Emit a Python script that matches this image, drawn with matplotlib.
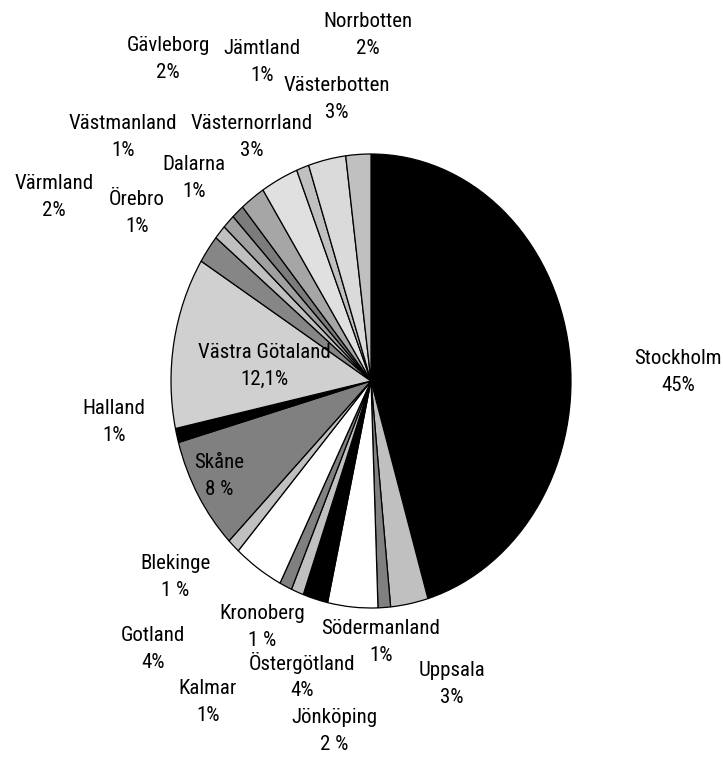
import matplotlib
matplotlib.use("Agg")
import matplotlib.pyplot as plt
from matplotlib import font_manager as fm

# Andel per län (procent), medurs från kl. 12
regions = ["Stockholm", "Uppsala", "Södermanland", "Östergötland", "Jönköping",
           "Kronoberg", "Kalmar", "Gotland", "Blekinge", "Skåne", "Halland",
           "Västra Götaland", "Värmland", "Örebro", "Västmanland", "Dalarna",
           "Gävleborg", "Västernorrland", "Jämtland", "Västerbotten", "Norrbotten"]
shares = [45, 3, 1, 4, 2, 1, 1, 4, 1, 8, 1, 12.1, 2, 1, 1, 1, 2, 3, 1, 3, 2]
share_labels = ["45%", "3%", "1%", "4%", "2 %", "1 %", "1%", "4%", "1 %", "8 %", "1%",
                "12,1%", "2%", "1%", "1%", "1%", "2%", "3%", "1%", "3%", "2%"]
colors = ["#000000", "#c0c0c0", "#808080", "#ffffff", "#000000", "#c0c0c0",
          "#808080", "#ffffff", "#c0c0c0", "#808080", "#000000", "#d0d0d0",
          "#868686", "#c0c0c0", "#a0a0a0", "#7c7c7c", "#a6a6a6", "#e0e0e0",
          "#c0c0c0", "#dadada", "#c0c0c0"]

# label centres in pixels (x, y from top)
label_pos = {
    "Stockholm": (678, 372), "Uppsala": (452, 684), "Södermanland": (381, 642),
    "Östergötland": (302, 676), "Jönköping": (334, 731), "Kronoberg": (262, 627),
    "Kalmar": (208, 702), "Gotland": (153, 649), "Blekinge": (175, 577),
    "Skåne": (219, 476), "Halland": (114, 422), "Västra Götaland": (264, 366),
    "Värmland": (54, 197), "Örebro": (137, 213), "Västmanland": (123, 137),
    "Dalarna": (194, 178), "Gävleborg": (168, 59), "Västernorrland": (252, 137),
    "Jämtland": (262, 62), "Västerbotten": (337, 99), "Norrbotten": (368, 35),
}

# pick a narrow font if one is installed
font_kw = dict(family=["DejaVu Sans"], fontsize=13)
available = {(f.name, f.stretch) for f in fm.fontManager.ttflist}
names = {n for n, s in available}
for cand in ["Liberation Sans Narrow", "Roboto Condensed", "Open Sans Condensed",
             "DejaVu Sans Condensed", "Noto Sans Condensed"]:
    if cand in names:
        font_kw = dict(family=[cand, "DejaVu Sans"], fontsize=15)
        break
else:
    for n, s in available:
        if n == "DejaVu Sans" and s == "condensed":
            font_kw = dict(family=["DejaVu Sans"], stretch="condensed", fontsize=14)
            break

W, H = 723, 761
fig = plt.figure(figsize=(W / 100, H / 100), dpi=100)
cx, cy, rx, ry = 371, 381, 200, 227
ax = fig.add_axes([(cx - rx) / W, 1 - (cy + ry) / H, 2 * rx / W, 2 * ry / H])

ax.pie(shares, colors=colors, startangle=90, counterclock=False,
       wedgeprops=dict(edgecolor="black", linewidth=0.9))
ax.set_aspect("auto")
ax.set_xlim(-1, 1)
ax.set_ylim(-1, 1)
ax.axis("off")

for name, lab in zip(regions, share_labels):
    x, y = label_pos[name]
    fig.text(x / W, 1 - y / H, f"{name}\n{lab}", ha="center", va="center",
             linespacing=1.5, **font_kw)

fig.savefig("out.png", dpi=100)
